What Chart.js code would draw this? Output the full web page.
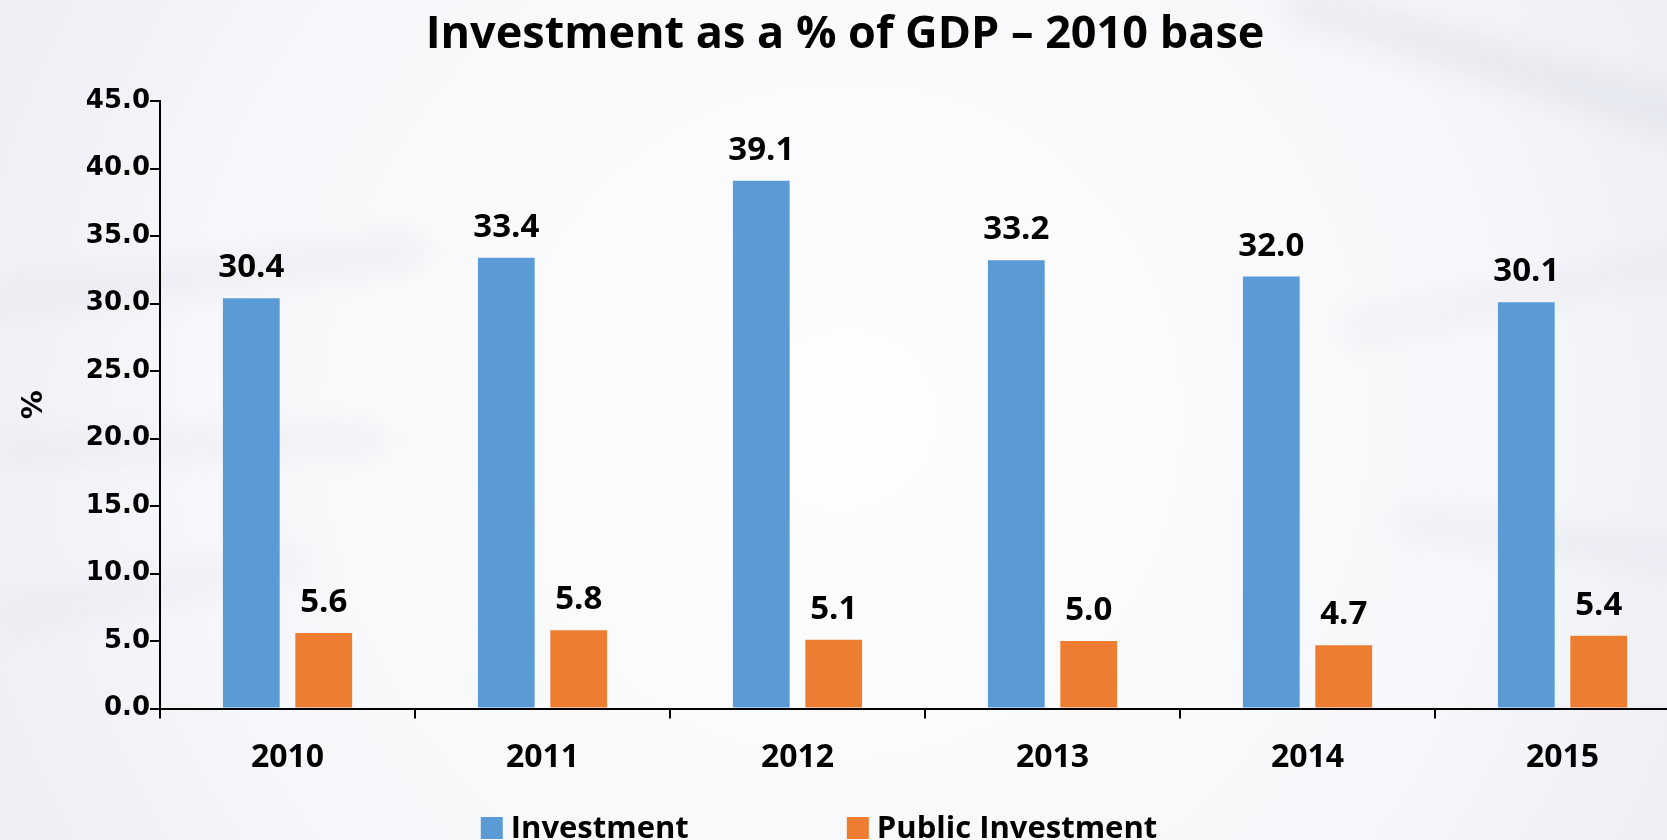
<!DOCTYPE html>
<html>
<head>
<meta charset="utf-8">
<title>Investment as a % of GDP</title>
<script src="https://cdn.jsdelivr.net/npm/chart.js@4.4.1/dist/chart.umd.min.js"></script>
<style>
  html, body { margin: 0; padding: 0; overflow: hidden; background: #f4f5f9; }
  #wrap { position: relative; width: 1690px; height: 840px; }
</style>
</head>
<body>
<div id="wrap"><canvas id="gdp-chart"></canvas></div>
<script>
// Data
const years = ['2010', '2011', '2012', '2013', '2014', '2015'];
const investment = [30.4, 33.4, 39.1, 33.2, 32.0, 30.1];
const publicInvestment = [5.6, 5.8, 5.1, 5.0, 4.7, 5.4];
const seriesNames = ['Investment', 'Public Investment'];
const yMax = 45;
const yStep = 5;

const BLUE = '#5B9BD5';
const ORANGE = '#ED7D31';

// Soft slide-style backdrop with a few faint light streaks
const backdrop = {
    id: 'backdrop',
    beforeDraw(chart) {
        const { ctx, width, height } = chart;
        ctx.save();
        const g = ctx.createRadialGradient(width * 0.5, height * 0.5, 60, width * 0.5, height * 0.5, width * 0.62);
        g.addColorStop(0, '#fdfdfe');
        g.addColorStop(0.6, '#f6f7fa');
        g.addColorStop(1, '#e9ebf2');
        ctx.fillStyle = g;
        ctx.fillRect(0, 0, width, height);

        ctx.filter = 'blur(14px)';
        const streaks = [
            [[0, 300], [420, 250], 'rgba(205,208,220,0.28)', 22],
            [[0, 450], [380, 440], 'rgba(208,210,222,0.24)', 18],
            [[0, 620], [300, 560], 'rgba(212,214,226,0.20)', 30],
            [[1290, 0], [1690, 120], 'rgba(205,208,220,0.28)', 40],
            [[1350, 330], [1690, 260], 'rgba(208,210,222,0.24)', 20],
            [[1400, 520], [1690, 560], 'rgba(208,210,224,0.24)', 24]
        ];
        streaks.forEach(([a, b, color, w]) => {
            ctx.strokeStyle = color;
            ctx.lineWidth = w;
            ctx.beginPath();
            ctx.moveTo(a[0], a[1]);
            ctx.lineTo(b[0], b[1]);
            ctx.stroke();
        });
        ctx.restore();
    }
};

// Value labels above each bar
const valueLabels = {
    id: 'valueLabels',
    afterDatasetsDraw(chart) {
        const { ctx } = chart;
        ctx.save();
        ctx.font = 'bold 33px "Open Sans"';
        ctx.fillStyle = '#000';
        ctx.textAlign = 'center';
        ctx.textBaseline = 'alphabetic';
        chart.data.datasets.forEach((ds, i) => {
            chart.getDatasetMeta(i).data.forEach((bar, j) => {
                ctx.fillText(ds.data[j].toFixed(1), bar.x, bar.y - 21);
            });
        });
        ctx.restore();
    }
};

// Wide-spaced legend along the bottom
const bottomLegend = {
    id: 'bottomLegend',
    afterDraw(chart, args, opts) {
        const { ctx } = chart;
        ctx.save();
        ctx.font = opts.font;
        ctx.textBaseline = 'middle';
        ctx.textAlign = 'left';
        const items = chart.data.datasets.map(ds => ({
            label: ds.label,
            color: ds.backgroundColor,
            w: ctx.measureText(ds.label).width
        }));
        const total = items.reduce((s, it) => s + opts.box + opts.gap + it.w, 0) + opts.spacing * (items.length - 1);
        let x = opts.centerX - total / 2;
        items.forEach(it => {
            ctx.fillStyle = it.color;
            ctx.fillRect(x, opts.y - opts.box / 2, opts.box, opts.box);
            x += opts.box + opts.gap;
            ctx.fillStyle = '#000';
            ctx.fillText(it.label, x, opts.y + 1);
            x += it.w + opts.spacing;
        });
        ctx.restore();
    }
};

const tickFont = { family: '"DejaVu Sans"', size: 26, weight: 'bold' };

const chart = new Chart(document.getElementById('gdp-chart'), {
    type: 'bar',
    data: {
        labels: years,
        datasets: [
            {
                label: seriesNames[0],
                data: investment,
                backgroundColor: BLUE,
                categoryPercentage: 0.568,
                barPercentage: 0.784
            },
            {
                label: seriesNames[1],
                data: publicInvestment,
                backgroundColor: ORANGE,
                categoryPercentage: 0.568,
                barPercentage: 0.784
            }
        ]
    },
    options: {
        responsive: true,
        maintainAspectRatio: false,
        animation: false,
        layout: { padding: { left: 0, right: 0, top: 0, bottom: 43 } },
        plugins: {
            legend: { display: false },
            tooltip: { enabled: false },
            title: {
                display: true,
                text: 'Investment as a % of GDP \u2013 2010 base',
                color: '#000',
                font: { family: '"Open Sans"', size: 45, weight: 'bold' },
                padding: { top: 8, bottom: 39 }
            },
            bottomLegend: {
                font: 'bold 31px "Open Sans"',
                box: 22,
                gap: 8,
                spacing: 158,
                centerX: 819,
                y: 828
            }
        },
        scales: {
            x: {
                grid: { offset: true, drawOnChartArea: false, tickLength: 10, color: '#000', lineWidth: 2 },
                border: { display: true, color: '#000', width: 2 },
                ticks: {
                    color: '#000',
                    padding: 20,
                    maxRotation: 0,
                    font: { family: '"Open Sans"', size: 32, weight: 'bold' }
                }
            },
            y: {
                min: 0,
                max: yMax,
                grid: { drawOnChartArea: false, tickLength: 10, color: '#000', lineWidth: 2 },
                border: { display: true, color: '#000', width: 2 },
                ticks: {
                    stepSize: yStep,
                    color: '#000',
                    padding: 0,
                    font: tickFont,
                    callback: v => v.toFixed(1)
                },
                title: {
                    display: true,
                    text: '%',
                    color: '#000',
                    font: { family: '"DejaVu Sans"', size: 29, weight: 'bold' },
                    padding: { top: 17, bottom: 0 }
                },
                afterFit(scale) {
                    scale.width = 160;
                }
            }
        }
    },
    plugins: [backdrop, valueLabels, bottomLegend]
});
</script>
</body>
</html>
